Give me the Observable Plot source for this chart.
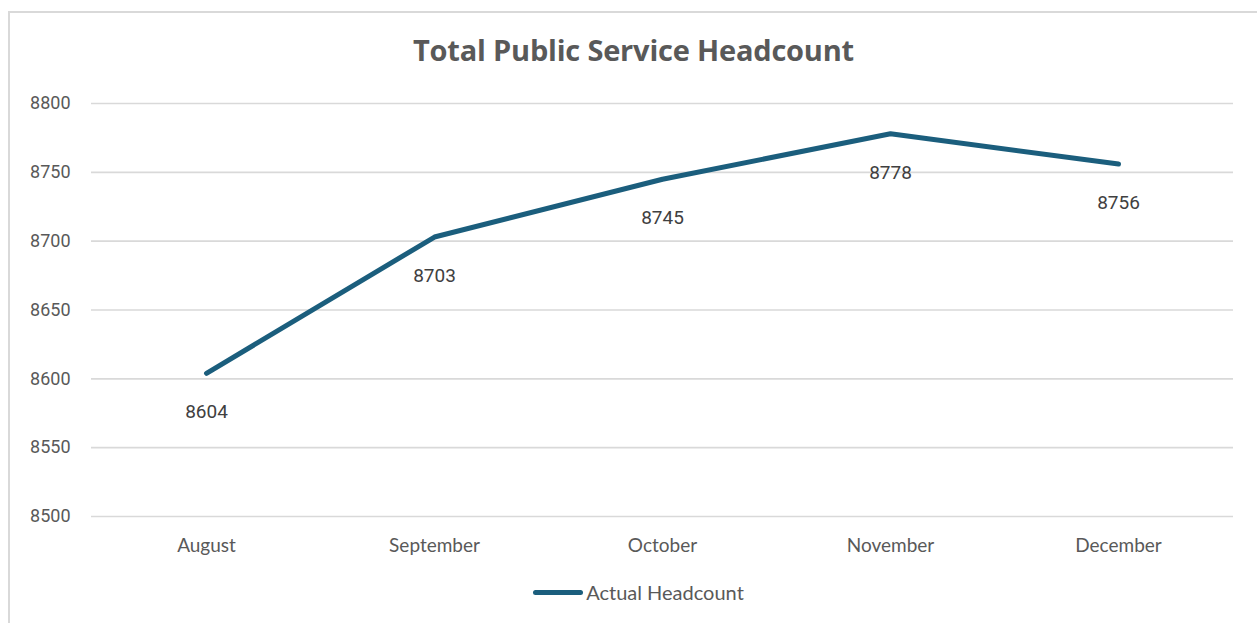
<!DOCTYPE html>
<html>
<head>
<meta charset="utf-8">
<script src="https://cdn.jsdelivr.net/npm/d3@7"></script>
<script src="https://cdn.jsdelivr.net/npm/@observablehq/plot@0.6"></script>
<style>
  html, body { margin: 0; padding: 0; background: #fff; width: 1257px; height: 623px; overflow: hidden; }
  #frame { position: absolute; left: 8px; top: 11px; width: 1260px; height: 620px; border-top: 2px solid #d9d9d9; border-left: 2px solid #d9d9d9; box-sizing: border-box; }
  #title { position: absolute; left: 0; top: 30px; width: 1267px; text-align: center; font-family: "Open Sans", sans-serif; font-weight: 700; font-size: 29px; color: #595959; letter-spacing: -0.2px; }
  #chart { position: absolute; left: 0; top: 80px; }
  #legend { position: absolute; top: 580px; left: 0; width: 1277px; display: flex; justify-content: center; align-items: center; font-family: Lato, sans-serif; font-size: 20px; color: #595959; }
  #legend .sw { width: 50px; height: 5px; border-radius: 3px; background: #1b5e7d; margin-right: 3px; }
</style>
</head>
<body>
<div id="frame"></div>
<div id="title">Total Public Service Headcount</div>
<div id="chart"></div>
<div id="legend"><span class="sw"></span><span>Actual Headcount</span></div>
<script>
const months = ["August", "September", "October", "November", "December"];
const headcount = [8604, 8703, 8745, 8778, 8756];
const yTicks = [8500, 8550, 8600, 8650, 8700, 8750, 8800];
const seriesName = "Actual Headcount";

const data = months.map((m, i) => ({month: m, value: headcount[i], series: seriesName}));

const plot = Plot.plot({
  width: 1257,
  height: 481,
  marginLeft: 91,
  marginRight: 24,
  marginTop: 23,
  marginBottom: 45,
  style: {fontFamily: "Lato, sans-serif", fontSize: "18px", color: "#595959", background: "transparent"},
  x: {type: "point", domain: months, padding: 0.5, label: null},
  y: {domain: [8500, 8800], ticks: yTicks, label: null},
  marks: [
    Plot.ruleY(yTicks, {stroke: "#d9d9d9", strokeWidth: 1.6}),
    Plot.axisY({ticks: yTicks, tickFormat: "d", tickSize: 0, tickPadding: 21, fontFamily: "Roboto, sans-serif", fontSize: 18, fill: "#595959", label: null}),
    Plot.axisX({tickSize: 0, tickPadding: 22, fontFamily: "Lato, sans-serif", fontSize: 19, fill: "#595959", label: null}),
    Plot.line(data, {x: "month", y: "value", stroke: "#1b5e7d", strokeWidth: 5, strokeLinecap: "round", strokeLinejoin: "round"}),
    Plot.text(data, {x: "month", y: "value", text: d => String(d.value), dy: 39, fontFamily: "Roboto, sans-serif", fontSize: 19, fill: "#404040"})
  ]
});
document.getElementById("chart").appendChild(plot);
</script>
</body>
</html>
